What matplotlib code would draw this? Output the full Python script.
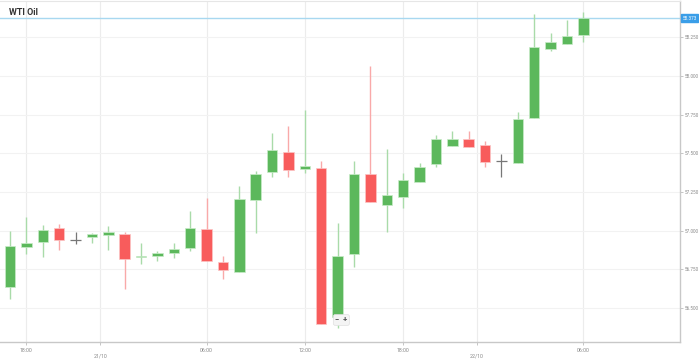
import numpy as np
import matplotlib.pyplot as plt
from matplotlib.patches import Rectangle

plt.rcParams['font.family'] = ['Roboto', 'DejaVu Sans']

# hourly candles, 20/10 17:00 .. 22/10 06:00 (one hour missing at the daily break)
opens = [56.636, 56.896, 56.924, 57.015, 56.939, 56.957, 56.971, 56.978, 56.827, 56.836,
         56.853, 56.886, 57.008, 56.797, 56.734, 57.199, 57.376, 57.507, 57.398, 57.406,
         56.444, 56.847, 57.367, 57.167, 57.217, 57.316, 57.428, 57.546, 57.589, 57.553,
         57.449, 57.434, 57.727, 58.174, 58.207, 58.267]
closes = [56.902, 56.918, 57.006, 56.937, 56.939, 56.980, 56.989, 56.814, 56.835, 56.857,
          56.881, 57.015, 56.805, 56.745, 57.206, 57.367, 57.518, 57.389, 57.417, 56.397,
          56.836, 57.363, 57.184, 57.228, 57.327, 57.410, 57.589, 57.589, 57.540, 57.441,
          57.449, 57.719, 58.187, 58.218, 58.256, 58.373]
highs = [56.999, 57.090, 57.036, 57.040, 56.989, 56.982, 57.028, 56.993, 56.922, 56.868,
         56.922, 57.126, 57.208, 56.836, 57.288, 57.387, 57.628, 57.677, 57.779, 57.449,
         57.047, 57.449, 58.063, 57.527, 57.370, 57.434, 57.619, 57.643, 57.643, 57.578,
         57.496, 57.768, 58.398, 58.280, 58.360, 58.411]
lows = [56.558, 56.849, 56.831, 56.873, 56.913, 56.918, 56.875, 56.621, 56.782, 56.802,
        56.823, 56.868, 56.805, 56.689, 56.734, 56.982, 57.348, 57.348, 57.370, 56.397,
        56.369, 56.767, 57.184, 56.989, 57.144, 57.314, 57.412, 57.546, 57.540, 57.412,
        57.348, 57.434, 57.727, 58.162, 58.207, 58.218]
last_price = 58.373

tick_pos = [1, 5.5, 12, 18, 24, 28.5, 35]
tick_labels = ['18:00', '\n21/10', '06:00', '12:00', '18:00', '\n22/10', '06:00']
y_ticks = [56.5, 56.75, 57.0, 57.25, 57.5, 57.75, 58.0, 58.25]

UP = '#5cb85c'
DOWN = '#f85c5c'
UP_WICK = '#a9dba9'
DOWN_WICK = '#f9a9a9'
DOJI = '#777777'

fig = plt.figure(figsize=(6.99, 3.59), dpi=100)
ax = fig.add_axes([0.0, 0.047, 0.9728, 0.95])

for x in tick_pos:
    ax.axvline(x, color='#ececec', lw=0.8, zorder=0)
for y in y_ticks:
    ax.axhline(y, color='#f2f2f2', lw=0.8, zorder=0)

w = 0.64
for i, (o, c, h, l) in enumerate(zip(opens, closes, highs, lows)):
    if abs(o - c) < 1e-6:
        ax.vlines(i, l, h, color=DOJI, lw=0.9, zorder=2)
        ax.hlines(o, i - w / 2, i + w / 2, color=DOJI, lw=0.9, zorder=2)
        continue
    up = c > o
    ax.vlines(i, l, h, color=UP_WICK if up else DOWN_WICK, lw=1.0, zorder=2)
    ax.add_patch(Rectangle((i - w / 2, min(o, c)), w, abs(c - o),
                           facecolor=UP if up else DOWN,
                           edgecolor='#c9ecc9' if up else '#fbc6c6',
                           lw=0.5, zorder=3))

ax.axhline(last_price, color='#a8d8f0', lw=1.0, zorder=1)

ax.set_xlim(-0.61, 40.9)
ax.set_ylim(56.28, 58.483)

ax.yaxis.tick_right()
ax.set_yticks(y_ticks)
ax.set_yticklabels([f'{v:.3f}' for v in y_ticks])
ax.set_xticks(tick_pos)
ax.set_xticklabels(tick_labels)
ax.tick_params(axis='both', colors='#bbbbbb', labelcolor='#888888',
               length=2.5, width=0.6)
ax.tick_params(axis='x', labelsize=3.8, pad=1.5)
ax.tick_params(axis='y', labelsize=3.3, pad=1.2, length=2)

ax.spines['left'].set_visible(False)
ax.spines['top'].set_color('#e6e6e6')
ax.spines['top'].set_linewidth(0.8)
for side in ['right', 'bottom']:
    ax.spines[side].set_color('#c8c8c8')
    ax.spines[side].set_linewidth(1.0)

ax.text(1.004, (last_price - 56.28) / (58.483 - 56.28), f'{last_price:.3f}',
        transform=ax.transAxes, fontsize=3.3, color='white', va='center', ha='left',
        bbox=dict(boxstyle='square,pad=0.3', facecolor='#3a9ee8', edgecolor='#3a9ee8'))

ax.text(0.013, 0.967, 'WTI Oil', transform=ax.transAxes, fontsize=6.5,
        fontweight='bold', color='#333333', va='center', ha='left')

ax.text(0.502, 0.065, '−  +', transform=ax.transAxes, fontsize=5.5,
        fontweight='bold', color='#555555', va='center', ha='center', zorder=5,
        bbox=dict(boxstyle='round,pad=0.25', facecolor='#f4f4f4', edgecolor='#e0e0e0', lw=0.5))

fig.savefig('out.png', dpi=100)
